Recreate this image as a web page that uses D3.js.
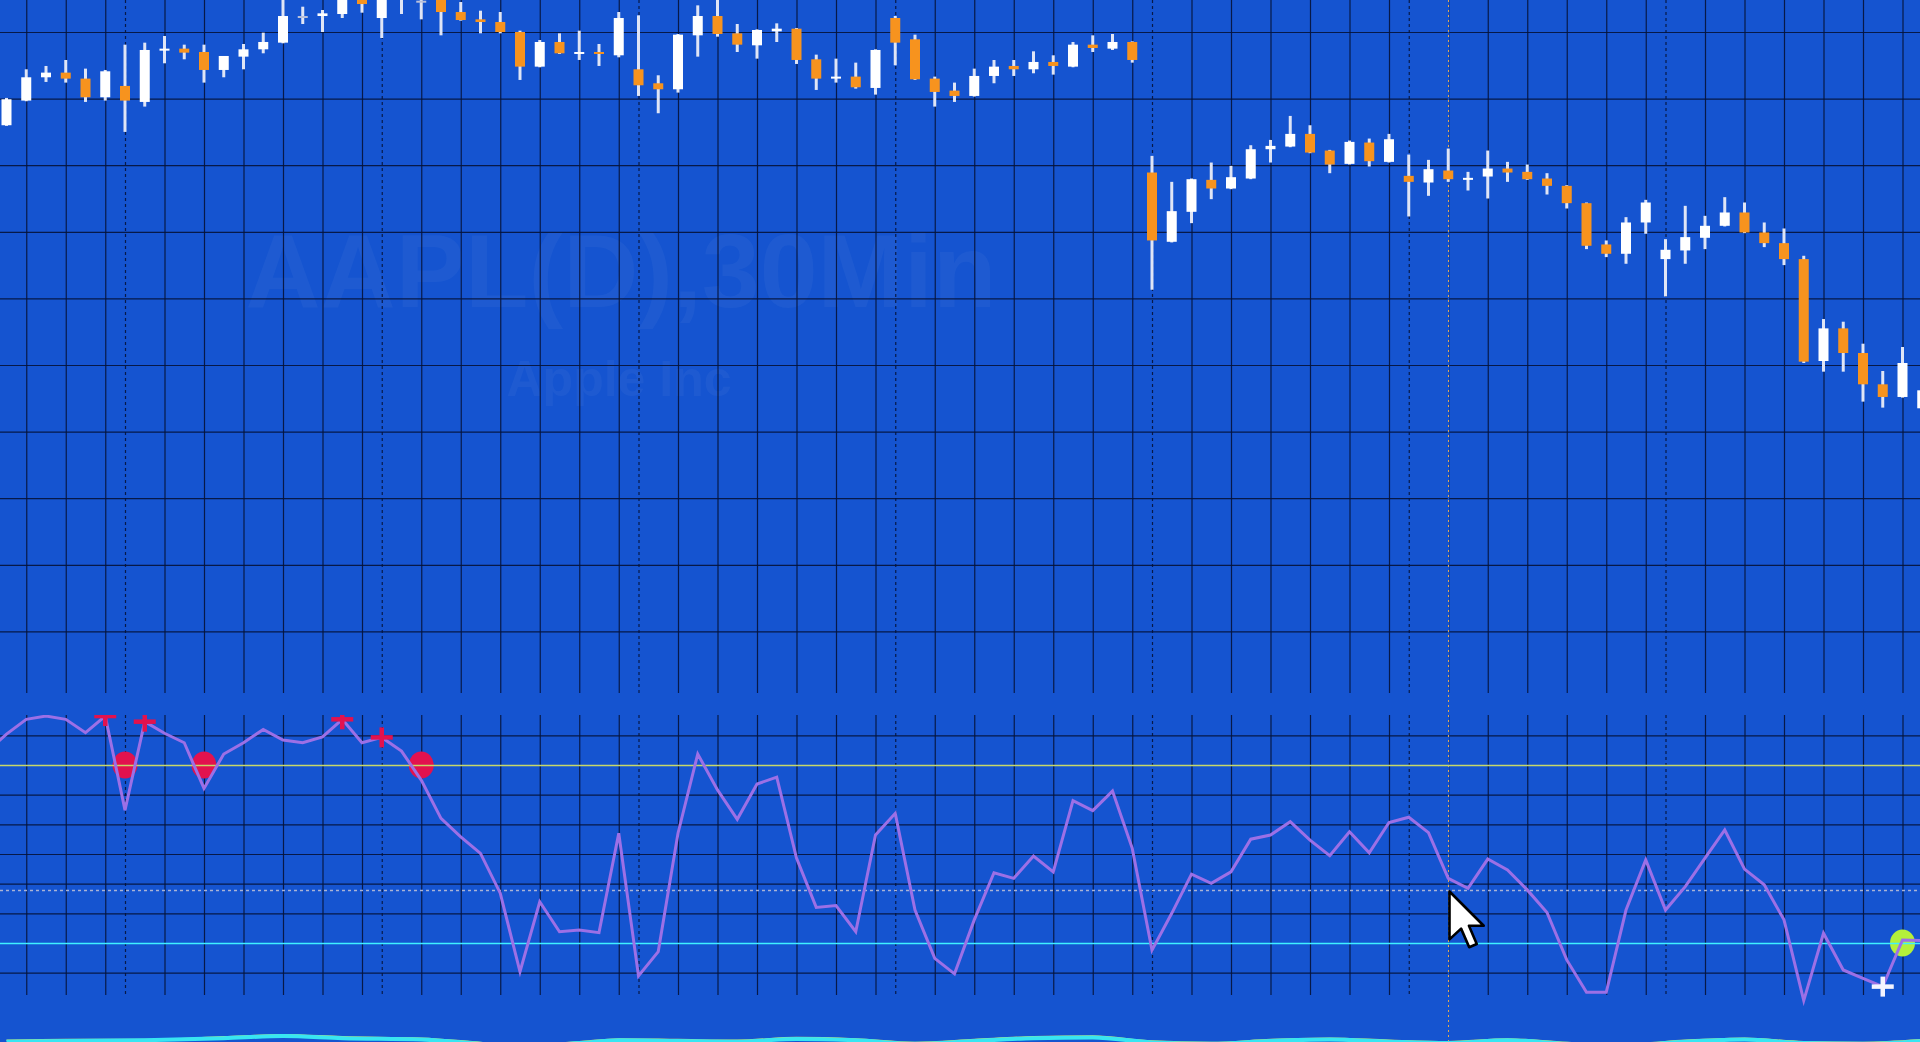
<!DOCTYPE html>
<html>
<head>
<meta charset="utf-8">
<script src="https://cdn.jsdelivr.net/npm/d3@7"></script>
<style>
  body { margin: 0; background: #1554d0; overflow: hidden; }
  svg { display: block; }
</style>
</head>
<body>
<script>
// AAPL 30 min bars, index 0..97 (last one sits on the right edge)
const opens = [178.60,178.97,179.32,179.39,179.30,179.02,179.19,178.95,179.72,179.75,
  179.70,179.43,179.63,179.74,179.84,180.24,180.24,180.27,180.57,180.21,
  180.52,180.47,180.51,180.30,180.19,180.15,180.00,179.48,179.85,179.68,
  179.70,179.65,179.44,179.23,179.14,179.95,180.24,179.98,179.80,180.01,
  180.05,179.59,179.32,179.33,179.16,180.21,179.89,179.30,179.12,179.04,
  179.34,179.49,179.44,179.55,179.48,179.81,179.75,179.85,177.89,176.85,
  177.30,177.78,177.65,177.80,178.24,178.28,178.47,178.22,178.02,178.34,
  178.05,177.84,177.74,177.92,177.79,177.83,177.95,177.90,177.80,177.69,
  177.43,176.81,176.67,177.14,176.59,176.72,176.91,177.09,177.29,176.99,
  176.83,176.59,175.06,175.55,175.18,174.71,174.52,174.35];
const highs = [179.01,179.44,179.49,179.58,179.45,179.43,179.81,179.84,179.94,179.81,
  179.81,179.64,179.82,179.99,180.60,180.38,180.33,180.66,180.69,180.78,
  181.01,180.60,180.63,180.45,180.32,180.30,180.02,179.88,179.98,180.02,
  179.82,180.30,180.25,179.35,179.97,180.40,180.56,180.12,180.04,180.13,
  180.06,179.66,179.60,179.54,179.74,180.24,179.96,179.33,179.24,179.45,
  179.58,179.58,179.71,179.65,179.85,179.95,179.97,179.86,178.14,177.75,
  177.80,178.04,177.99,178.30,178.38,178.74,178.60,178.23,178.37,178.40,
  178.47,178.16,178.08,178.25,177.90,178.22,178.05,178.01,177.88,177.70,
  177.44,176.87,177.22,177.48,176.89,177.39,177.24,177.52,177.44,177.14,
  177.05,176.64,175.69,175.65,175.32,174.91,175.27,174.75];
const lows = [178.59,178.96,179.25,179.24,178.95,178.97,178.50,178.88,179.53,179.59,
  179.24,179.32,179.44,179.68,179.83,180.12,180.00,180.21,180.29,179.91,
  180.27,180.19,179.95,180.17,179.98,179.98,179.28,179.47,179.67,179.58,
  179.49,179.62,179.04,178.78,179.09,179.63,179.93,179.70,179.60,179.85,
  179.52,179.13,179.24,179.15,179.06,179.50,179.28,178.88,178.95,179.03,
  179.23,179.34,179.38,179.36,179.47,179.70,179.73,179.54,176.13,176.84,
  177.13,177.49,177.64,177.79,178.04,178.27,178.18,177.88,178.01,177.98,
  178.04,177.23,177.54,177.75,177.62,177.50,177.75,177.78,177.56,177.35,
  176.74,176.62,176.52,176.97,176.03,176.52,176.74,177.08,176.98,176.77,
  176.50,175.03,174.90,174.90,174.45,174.36,174.51,174.30];
const closes = [178.99,179.32,179.39,179.30,179.02,179.41,178.97,179.73,179.75,179.69,
  179.43,179.64,179.74,179.85,180.24,180.24,180.28,180.56,180.42,180.63,
  180.86,180.47,180.30,180.18,180.15,180.00,179.48,179.85,179.68,179.70,
  179.68,180.21,179.20,179.14,179.96,180.24,179.97,179.81,180.03,180.05,
  179.58,179.30,179.33,179.17,179.73,179.84,179.29,179.10,179.04,179.34,
  179.48,179.44,179.55,179.49,179.81,179.76,179.85,179.58,176.87,177.31,
  177.79,177.65,177.82,178.24,178.29,178.47,178.19,178.01,178.35,178.06,
  178.39,177.75,177.94,177.79,177.81,177.95,177.89,177.79,177.69,177.43,
  176.79,176.67,177.14,177.44,176.73,176.92,177.09,177.29,176.99,176.83,
  176.59,175.05,175.55,175.18,174.71,174.52,175.03,174.62];

// oscillator in the lower window (first value is the bar just left of the screen)
const oscStart = -1;
const oscValues = [84.4,
  90.4,95.4,96.5,95.4,90.9,96.5,64.8,94.6,90.7,87.5,
  72.1,83.7,87.5,92.0,88.4,87.5,89.5,95.4,87.5,89.3,
  84.7,74.9,62.0,55.8,50.2,36.8,10.3,33.9,23.8,24.4,
  23.5,57.0,8.9,17.1,57.0,83.7,71.6,61.7,73.6,75.9,
  48.6,32.0,32.6,23.8,56.4,63.7,31.1,14.8,9.6,27.8,
  43.7,41.8,49.3,44.0,68.0,64.6,71.2,51.9,17.6,30.0,
  43.2,40.1,44.0,55.0,56.4,60.9,54.7,49.4,57.5,50.4,
  60.6,62.4,57.2,41.8,38.4,48.3,44.6,37.9,30.3,14.3,
  3.4,3.4,31.1,48.0,31.1,39.0,48.6,58.1,44.9,39.6,
  27.8,0.6,23.3,10.9,8.1,5.3,21.0,20.8];

const upperLevel = 80, lowerLevel = 20, markLevel = 38;
const sellDots = [6, 10, 21];
const sellCrosses = [5, 7, 17, 19];
const buyDots = [96];
const buyCrosses = [95];

const dayStarts = [-7, 6, 19, 32, 45, 58, 71, 84, 97];
const priceTicks = [171, 172, 173, 174, 175, 176, 177, 178, 179, 180];
const oscTicks = [10, 30, 40, 50, 60, 70, 90];
const vlineBar = 73;

// thin third window at the bottom, mostly cut off
const subBars = [0, 3, 7, 11, 14, 17, 21, 24, 26, 29, 31, 34, 37, 40, 43, 46, 49,
  52, 55, 58, 61, 64, 67, 70, 73, 76, 79, 82, 85, 88, 91, 94, 97];
const subCyan = [0.45, 0.5, 0.55, 0.7, 0.85, 0.7, 0.6, 0.3, 0.1, 0.35, 0.55, 0.5, 0.45,
  0.65, 0.55, 0.3, 0.5, 0.7, 0.75, 0.4, 0.3, 0.5, 0.6, 0.45, 0.35, 0.55, 0.3, 0.2,
  0.45, 0.6, 0.35, 0.3, 0.5];
const subYellow = [0.55, 0.6, 0.6, 0.8, 0.95, 0.8, 0.7, 0.4, 0.2, 0.45, 0.65, 0.6, 0.55,
  0.75, 0.65, 0.4, 0.6, 0.8, 0.85, 0.5, 0.4, 0.6, 0.7, 0.55, 0.45, 0.65, 0.4, 0.3,
  0.55, 0.7, 0.45, 0.4, 0.6];

const W = 1920, H = 1042;
const mainBottom = 693, indTop = 715, indBottom = 995;
const bg = "#1554d0", gridColor = "#061338";

const bars = d3.range(opens.length);
const oscBars = d3.range(oscStart, oscStart + oscValues.length);
const osc = (i) => oscValues[i - oscStart];

const x = d3.scaleLinear().domain([0, 97]).range([6.5, 6.5 + 97 * 19.75]);
const y = d3.scaleLinear().domain([170, 180]).range([698, 32]);
const yInd = d3.scaleLinear().domain([lowerLevel, upperLevel]).range([943, 765]);
const ySub = d3.scaleLinear().domain([0, 1]).range([1048, 1034]);

const svg = d3.select("body").append("svg")
    .attr("width", W)
    .attr("height", H);

svg.append("rect").attr("width", W).attr("height", H).attr("fill", bg);

let defs = svg.append("defs");
defs.append("clipPath").attr("id", "clipMain")
    .append("rect").attr("x", 0).attr("y", 0).attr("width", W).attr("height", mainBottom);
defs.append("clipPath").attr("id", "clipInd")
    .append("rect").attr("x", 0).attr("y", indTop).attr("width", W).attr("height", 292);

// watermark
svg.append("text")
    .attr("x", 621).attr("y", 307)
    .attr("text-anchor", "middle")
    .attr("font-family", "'Liberation Sans', Arial, sans-serif")
    .attr("font-weight", "bold")
    .attr("font-size", 104)
    .attr("fill", "#ffffff").attr("fill-opacity", 0.04)
    .text("AAPL(D),30Min");
svg.append("text")
    .attr("x", 619).attr("y", 396)
    .attr("text-anchor", "middle")
    .attr("font-family", "'Liberation Sans', Arial, sans-serif")
    .attr("font-weight", "bold")
    .attr("font-size", 50)
    .attr("fill", "#ffffff").attr("fill-opacity", 0.04)
    .text("Apple Inc");

// grid: hourly lines every 2 bars from each session start
let gridBars = [];
dayStarts.forEach((s) => {
    for (let k = 2; k <= 12; k += 2) gridBars.push(s + k);
});
gridBars = gridBars.filter((b) => b >= 0 && b <= 97);
const sepBars = dayStarts.filter((b) => b >= 0 && b <= 97);

function styleGrid(g, dash) {
    g.select(".domain").remove();
    g.selectAll(".tick line")
        .attr("stroke", gridColor)
        .attr("stroke-opacity", 0.9)
        .attr("stroke-width", 1.2)
        .attr("stroke-dasharray", dash);
}

// main window grid
svg.append("g")
    .call(d3.axisRight(y).tickValues(priceTicks).tickSize(W).tickFormat(""))
    .call(styleGrid, null);
svg.append("g")
    .call(d3.axisBottom(x).tickValues(gridBars).tickSize(mainBottom).tickFormat(""))
    .call(styleGrid, null);
svg.append("g")
    .call(d3.axisBottom(x).tickValues(sepBars).tickSize(mainBottom).tickFormat(""))
    .call(styleGrid, "3,3");

// indicator window grid
svg.append("g")
    .call(d3.axisRight(yInd).tickValues(oscTicks.concat([upperLevel, lowerLevel])).tickSize(W).tickFormat(""))
    .call(styleGrid, null);
svg.append("g")
    .attr("transform", `translate(0, ${indTop})`)
    .call(d3.axisBottom(x).tickValues(gridBars).tickSize(indBottom - indTop).tickFormat(""))
    .call(styleGrid, null);
svg.append("g")
    .attr("transform", `translate(0, ${indTop})`)
    .call(d3.axisBottom(x).tickValues(sepBars).tickSize(indBottom - indTop).tickFormat(""))
    .call(styleGrid, "3,3");

// vertical line object (dotted, gaps in background colour)
const vx = Math.round(x(vlineBar)) + 0.5;
svg.append("line")
    .attr("x1", vx).attr("x2", vx).attr("y1", 0).attr("y2", H)
    .attr("stroke", bg).attr("stroke-width", 1.5);
svg.append("line")
    .attr("x1", vx).attr("x2", vx).attr("y1", 0).attr("y2", H)
    .attr("stroke", "#e0a850").attr("stroke-width", 1)
    .attr("stroke-dasharray", "2,3");

// candles
let candles = svg.append("g").attr("clip-path", "url(#clipMain)");

candles.selectAll("line.wick")
    .data(bars)
    .enter()
        .append("line")
        .attr("class", "wick")
        .attr("x1", (i) => x(i))
        .attr("x2", (i) => x(i))
        .attr("y1", (i) => y(highs[i]))
        .attr("y2", (i) => y(lows[i]))
        .attr("stroke", "#dfe5f6")
        .attr("stroke-width", 3);

candles.selectAll("rect.body")
    .data(bars)
    .enter()
        .append("rect")
        .attr("class", "body")
        .attr("x", (i) => x(i) - 5)
        .attr("width", 10)
        .attr("y", (i) => y(Math.max(opens[i], closes[i])))
        .attr("height", (i) => Math.max(2, Math.abs(y(opens[i]) - y(closes[i]))))
        .attr("fill", (i) => closes[i] > opens[i] ? "#ffffff"
            : closes[i] < opens[i] ? "#f7931e" : "#b9c0da");

// indicator window
let ind = svg.append("g").attr("clip-path", "url(#clipInd)");

ind.selectAll("ellipse.sell")
    .data(sellDots)
    .enter()
        .append("ellipse")
        .attr("class", "sell")
        .attr("cx", (i) => x(i))
        .attr("cy", yInd(upperLevel))
        .attr("rx", 12.5)
        .attr("ry", 13.5)
        .attr("fill", "#e2124e");

ind.selectAll("ellipse.buy")
    .data(buyDots)
    .enter()
        .append("ellipse")
        .attr("class", "buy")
        .attr("cx", (i) => x(i))
        .attr("cy", yInd(lowerLevel))
        .attr("rx", 12.5)
        .attr("ry", 13.5)
        .attr("fill", "#b4f03a");

function hline(v, color, width, dash) {
    ind.append("line")
        .attr("x1", 0).attr("x2", W)
        .attr("y1", Math.round(yInd(v)) + 0.5).attr("y2", Math.round(yInd(v)) + 0.5)
        .attr("stroke", color).attr("stroke-width", width)
        .attr("stroke-dasharray", dash);
}
hline(upperLevel, "#c8d868", 1.6, null);
hline(lowerLevel, "#3ff0ff", 1.6, null);
hline(markLevel, "#a9b3d6", 1.4, "3,3");

ind.append("path")
    .datum(oscBars)
    .attr("d", d3.line().x((i) => x(i)).y((i) => yInd(osc(i))))
    .attr("fill", "none")
    .attr("stroke", "#9c70e6")
    .attr("stroke-width", 3)
    .attr("stroke-linejoin", "miter");

function crosses(list, color) {
    let g = ind.append("g");
    list.forEach((i) => {
        let cx = x(i), cy = yInd(osc(i));
        g.append("line").attr("x1", cx - 11).attr("x2", cx + 11).attr("y1", cy).attr("y2", cy)
            .attr("stroke", color).attr("stroke-width", 4.5);
        g.append("line").attr("x1", cx).attr("x2", cx).attr("y1", cy - 10).attr("y2", cy + 10)
            .attr("stroke", color).attr("stroke-width", 4.5);
    });
}
crosses(sellCrosses, "#e2124e");
crosses(buyCrosses, "#f4f4ff");

// bottom window sliver
const subLine = d3.line()
    .x((d, k) => x(subBars[k]))
    .y((d) => ySub(d))
    .curve(d3.curveMonotoneX);
svg.append("path")
    .datum(subYellow)
    .attr("d", subLine)
    .attr("fill", "none").attr("stroke", "#d7dd5c").attr("stroke-width", 1.5);
svg.append("path")
    .datum(subCyan)
    .attr("d", subLine)
    .attr("fill", "none").attr("stroke", "#38e6f2").attr("stroke-width", 4);

// mouse pointer
svg.append("path")
    .attr("transform", "translate(1449.5, 891.5) scale(2.9)")
    .attr("d", "M0,0 L0,16.5 L4,12.8 L6.8,19.2 L9.4,18.1 L6.7,11.8 L11.8,11.8 Z")
    .attr("fill", "#ffffff")
    .attr("stroke", "#000000")
    .attr("stroke-width", 0.9)
    .attr("stroke-linejoin", "round");
</script>
</body>
</html>
